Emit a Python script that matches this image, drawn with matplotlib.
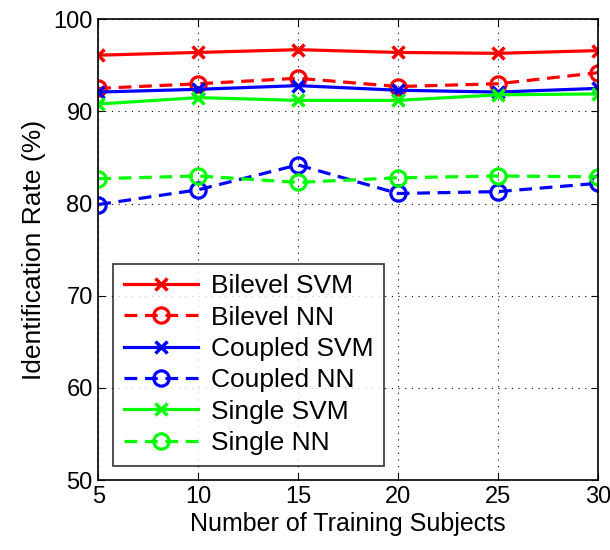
import matplotlib
matplotlib.use('Agg')
import matplotlib.pyplot as plt

plt.rcParams['font.family'] = ['Liberation Sans', 'DejaVu Sans']

subjects = [5, 10, 15, 20, 25, 30]
bilevel_svm = [96.1, 96.4, 96.7, 96.4, 96.3, 96.6]
bilevel_nn = [92.5, 93.0, 93.6, 92.7, 93.0, 94.2]
coupled_svm = [92.1, 92.4, 92.8, 92.3, 92.1, 92.5]
coupled_nn = [79.9, 81.5, 84.2, 81.1, 81.3, 82.2]
single_svm = [90.8, 91.5, 91.2, 91.2, 91.8, 91.9]
single_nn = [82.7, 83.0, 82.3, 82.8, 83.0, 82.9]

fig = plt.figure(figsize=(6.1, 5.5), dpi=100)
ax = fig.add_axes([0.161, 0.127, 0.819, 0.838])

lw = 2.3
dash = (4, 2.4)
ax.plot(subjects, bilevel_svm, '-x', color='#ff0000', lw=lw, ms=9, mew=2.5, label='Bilevel SVM')
ax.plot(subjects, bilevel_nn, '--o', color='#ff0000', lw=lw, ms=11, mew=2.3, mfc='none',
        dashes=dash, label='Bilevel NN')
ax.plot(subjects, coupled_svm, '-x', color='#0000ff', lw=lw, ms=9, mew=2.5, label='Coupled SVM')
ax.plot(subjects, coupled_nn, '--o', color='#0000ff', lw=lw, ms=11, mew=2.3, mfc='none',
        dashes=dash, label='Coupled NN')
ax.plot(subjects, single_svm, '-x', color='#00ff00', lw=lw, ms=9, mew=2.5, label='Single SVM')
ax.plot(subjects, single_nn, '--o', color='#00ff00', lw=lw, ms=11, mew=2.3, mfc='none',
        dashes=dash, label='Single NN')

ax.set_xlim(5, 30)
ax.set_ylim(50, 100)
ax.set_xticks(subjects)
ax.set_yticks([50, 60, 70, 80, 90, 100])
ax.grid(True, color='black', linestyle=(0, (1, 5)), linewidth=0.8)
ax.tick_params(direction='in', top=True, right=True, labelsize=17, length=5, width=0.8, pad=4)
for s in ax.spines.values():
    s.set_linewidth(1.2)

ax.set_xlabel('Number of Training Subjects', fontsize=18, labelpad=3)
ax.set_ylabel('Identification Rate (%)', fontsize=19, labelpad=5)

leg = ax.legend(loc='lower left', bbox_to_anchor=(0.02, 0.02), fontsize=19, frameon=True,
                fancybox=False, edgecolor='black', handlelength=2.8, borderpad=0.4,
                labelspacing=0.28, handletextpad=0.5, borderaxespad=0.2)
leg.get_frame().set_linewidth(1.2)

fig.savefig('out.png', dpi=100)
